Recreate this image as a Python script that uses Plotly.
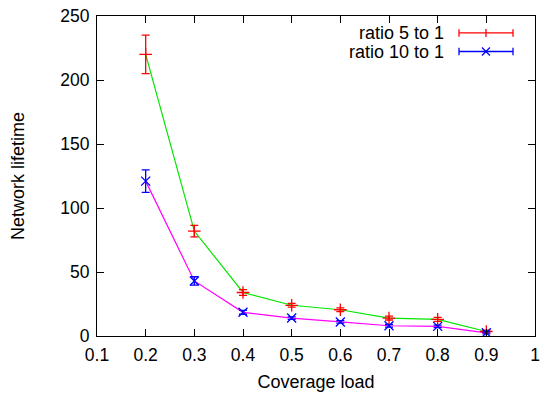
import plotly.graph_objects as go

# Coverage load values and the measured network lifetime (mean and error) per ratio
coverage_load = [0.2, 0.3, 0.4, 0.5, 0.6, 0.7, 0.8, 0.9]
lifetime_5to1 = [220, 82, 34, 24, 20.5, 14, 13, 3.5]
err_5to1 = [15, 4.5, 2.3, 1.5, 1.5, 1.5, 1.5, 1.0]
lifetime_10to1 = [121, 43, 18.5, 14, 11, 8, 7.5, 2.5]
err_10to1 = [8.8, 3.3, 1.5, 1.0, 1.0, 1.0, 1.0, 0.8]

series_names = ["ratio 5 to 1", "ratio 10 to 1"]
x_ticks = [0.1, 0.2, 0.3, 0.4, 0.5, 0.6, 0.7, 0.8, 0.9, 1]
y_ticks = [0, 50, 100, 150, 200, 250]

FONT = "Liberation Sans, Arial, sans-serif"
RED, BLUE = "#ff0000", "#0000ff"
GREEN, MAGENTA = "#00e600", "#ff00ff"

fig = go.Figure()

# connecting lines
fig.add_trace(go.Scatter(x=coverage_load, y=lifetime_5to1, mode="lines",
                         line=dict(color=GREEN, width=1.2), hoverinfo="skip"))
fig.add_trace(go.Scatter(x=coverage_load, y=lifetime_10to1, mode="lines",
                         line=dict(color=MAGENTA, width=1.2), hoverinfo="skip"))

# points with error bars
fig.add_trace(go.Scatter(
    x=coverage_load, y=lifetime_5to1, mode="markers", name=series_names[0],
    marker=dict(symbol="cross-thin", size=9, color=RED, line=dict(color=RED, width=1.3)),
    error_y=dict(type="data", array=err_5to1, visible=True, color=RED, thickness=1.3, width=4),
))
fig.add_trace(go.Scatter(
    x=coverage_load, y=lifetime_10to1, mode="markers", name=series_names[1],
    marker=dict(symbol="x-thin", size=9, color=BLUE, line=dict(color=BLUE, width=1.3)),
    error_y=dict(type="data", array=err_10to1, visible=True, color=BLUE, thickness=1.3, width=4),
))

# key in the upper right corner: label, horizontal bar with caps, and point symbol
shapes = []
annotations = []
key_rows = [(0.947, RED, "plus"), (0.889, BLUE, "x")]
x0, x1, xm = 0.8265, 0.9498, 0.888
cap_h, mk_w, mk_h = 0.0116, 0.0091, 0.0125
for (yk, col, sym), name in zip(key_rows, series_names):
    annotations.append(dict(xref="paper", yref="paper", x=0.797, y=yk, xanchor="right",
                            yanchor="middle", text=name, showarrow=False,
                            font=dict(family=FONT, size=18, color="black")))
    ln = dict(color=col, width=1.3)
    shapes.append(dict(type="line", xref="paper", yref="paper", x0=x0, x1=x1, y0=yk, y1=yk, line=ln))
    for xc in (x0, x1):
        shapes.append(dict(type="line", xref="paper", yref="paper", x0=xc, x1=xc,
                           y0=yk - cap_h, y1=yk + cap_h, line=ln))
    if sym == "plus":
        shapes.append(dict(type="line", xref="paper", yref="paper", x0=xm, x1=xm,
                           y0=yk - mk_h, y1=yk + mk_h, line=ln))
    else:
        shapes.append(dict(type="line", xref="paper", yref="paper", x0=xm - mk_w, x1=xm + mk_w,
                           y0=yk - mk_h, y1=yk + mk_h, line=ln))
        shapes.append(dict(type="line", xref="paper", yref="paper", x0=xm - mk_w, x1=xm + mk_w,
                           y0=yk + mk_h, y1=yk - mk_h, line=ln))

axis_common = dict(showgrid=False, zeroline=False, showline=True, linecolor="black",
                   linewidth=1.2, mirror="ticks", ticks="inside", ticklen=7,
                   tickcolor="black", tickwidth=1.2, automargin=False,
                   tickfont=dict(family=FONT, size=17.5, color="black"))

fig.update_layout(
    width=541, height=398,
    margin=dict(l=97, r=6, t=16, b=62),
    paper_bgcolor="white", plot_bgcolor="white",
    showlegend=False,
    shapes=shapes, annotations=annotations,
    xaxis=dict(range=[0.1, 1], tickvals=x_ticks, ticktext=[f"{v:g}" for v in x_ticks],
               ticklabelstandoff=3,
               title=dict(text="Coverage load", font=dict(family=FONT, size=18, color="black"),
                          standoff=11), **axis_common),
    yaxis=dict(range=[0, 250], tickvals=y_ticks, ticklabelstandoff=3,
               title=dict(text="Network lifetime", font=dict(family=FONT, size=18, color="black"),
                          standoff=30), **axis_common),
)

fig.write_html("out.html")
